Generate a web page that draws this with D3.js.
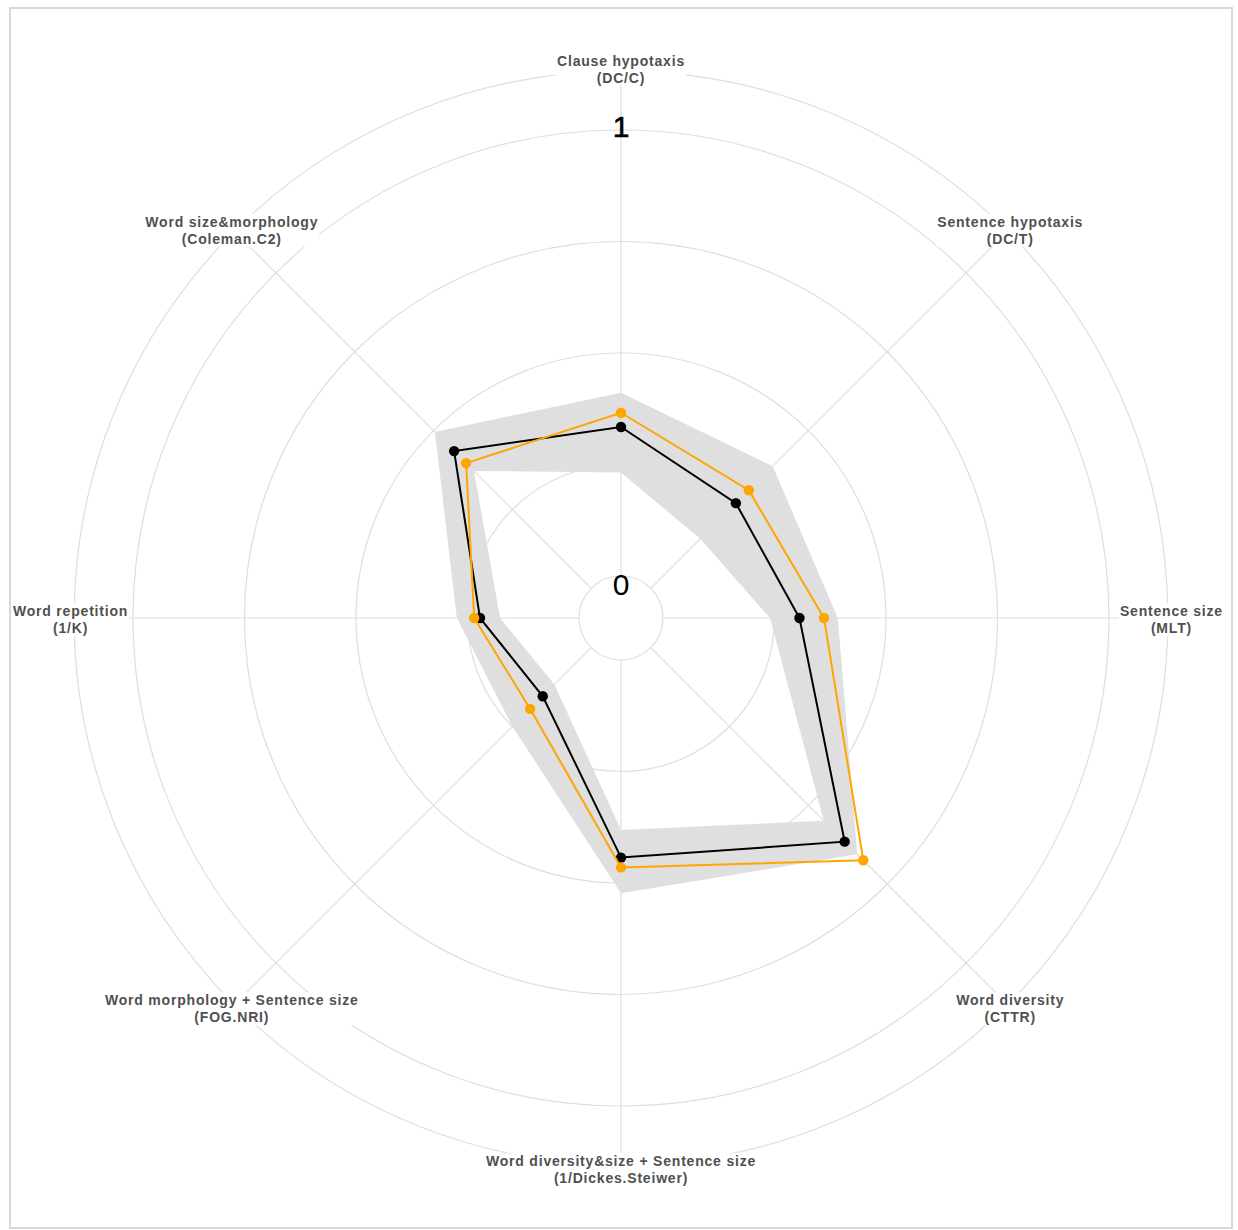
<!DOCTYPE html>
<html>
<head>
<meta charset="utf-8">
<script src="https://cdn.jsdelivr.net/npm/d3@7"></script>
<style>
  html, body { margin: 0; padding: 0; background: #fff; }
  svg { display: block; }
</style>
</head>
<body>
<svg id="chart" width="1238" height="1230"></svg>
<script>
// ---- data ----
const axisNames = [
  "Clause hypotaxis", "Sentence hypotaxis", "Sentence size", "Word diversity",
  "Word diversity&size + Sentence size", "Word morphology + Sentence size",
  "Word repetition", "Word size&morphology"
];
const axisCodes = ["(DC/C)", "(DC/T)", "(MLT)", "(CTTR)", "(1/Dickes.Steiwer)", "(FOG.NRI)", "(1/K)", "(Coleman.C2)"];
const seriesBlack  = [0.334, 0.270, 0.306, 0.615, 0.443, 0.154, 0.222, 0.435];
const seriesOrange = [0.366, 0.311, 0.361, 0.674, 0.465, 0.194, 0.235, 0.397];
const bandMax = [0.411, 0.387, 0.392, 0.655, 0.523, 0.250, 0.274, 0.496];
const bandMin = [0.232, 0.157, 0.240, 0.549, 0.381, 0.117, 0.177, 0.372];
const gridValues = [0, 0.25, 0.5, 0.75, 1];
const gridLabels = ["0", "1"];

// ---- layout ----
const W = 1238, H = 1230;
const cx = 621, cy = 618;
const svg = d3.select("#chart");
const r = d3.scaleLinear().domain([0, 1]).range([42, 488]);
const outerV = 1.132, axisEndV = 1.105, labelV = 1.14;
const n = axisNames.length;
const ang = d3.scaleLinear().domain([0, n]).range([0, 2 * Math.PI]);
const pt = (i, v) => [cx + r(v) * Math.sin(ang(i)), cy - r(v) * Math.cos(ang(i))];

// panel border
svg.append("rect").attr("x", 10).attr("y", 8).attr("width", 1222).attr("height", 1220)
  .attr("fill", "none").attr("stroke", "#d9d9d9").attr("stroke-width", 2);

const g = svg.append("g");
const gridColor = "#dedede";

// grid circles
g.selectAll("circle.grid").data(gridValues.concat([outerV])).join("circle")
  .attr("class", "grid").attr("cx", cx).attr("cy", cy).attr("r", d => r(d))
  .attr("fill", "none").attr("stroke", gridColor).attr("stroke-width", 1.2);

// axis lines
g.selectAll("line.axis").data(d3.range(n)).join("line")
  .attr("class", "axis")
  .attr("x1", i => pt(i, 0)[0]).attr("y1", i => pt(i, 0)[1])
  .attr("x2", i => pt(i, axisEndV)[0]).attr("y2", i => pt(i, axisEndV)[1])
  .attr("stroke", gridColor).attr("stroke-width", 1.2);

// band (between min and max), even-odd ring
const ringPath = vals => "M" + vals.map((v, i) => pt(i, v).join(",")).join("L") + "Z";
const innerRev = d3.range(n).reverse().map(i => pt(i, bandMin[i]).join(","));
g.append("path")
  .attr("d", ringPath(bandMax) + "M" + innerRev.join("L") + "Z")
  .attr("fill", "#dfdfdf").attr("fill-rule", "evenodd").attr("stroke", "none");

// series
const line = d3.line().curve(d3.curveLinearClosed);
function drawSeries(vals, color) {
  const pts = vals.map((v, i) => pt(i, v));
  g.append("path").attr("d", line(pts)).attr("fill", "none")
    .attr("stroke", color).attr("stroke-width", 2);
  g.selectAll(null).data(pts).join("circle")
    .attr("cx", d => d[0]).attr("cy", d => d[1]).attr("r", 5.2).attr("fill", color);
}
drawSeries(seriesBlack, "#000000");
drawSeries(seriesOrange, "#FFA500");

// grid labels 0 / 1
g.append("text").attr("x", cx).attr("y", cy - r(1) + 7)
  .attr("text-anchor", "middle").attr("font-family", "Liberation Sans, Arial, sans-serif")
  .attr("font-size", 30).attr("fill", "#000").attr("stroke", "#000").attr("stroke-width", 0.6)
  .text(gridLabels[1]);
g.append("text").attr("x", cx).attr("y", cy - r(0) + 19)
  .attr("text-anchor", "middle").attr("font-family", "Liberation Sans, Arial, sans-serif")
  .attr("font-size", 30).attr("fill", "#000").text(gridLabels[0]);

// axis labels with white background
const lab = g.selectAll("g.lab").data(d3.range(n)).join("g").attr("class", "lab")
  .attr("transform", i => `translate(${pt(i, labelV)[0]},${pt(i, labelV)[1]})`);
lab.append("rect").attr("fill", "#fff");
const txt = lab.append("text").attr("text-anchor", "middle")
  .attr("font-family", "Liberation Sans, Arial, sans-serif").attr("font-size", 14)
  .attr("font-weight", "bold").attr("fill", "#505050").attr("letter-spacing", 0.8);
txt.append("tspan").attr("x", 0).attr("y", -2).text(i => axisNames[i]);
txt.append("tspan").attr("x", 0).attr("y", 15).text(i => axisCodes[i]);
txt.each(function(i) {
  const b = this.getBBox();
  d3.select(this.parentNode).select("rect")
    .attr("x", b.x - 1).attr("y", b.y).attr("width", b.width + 2).attr("height", b.height);
});
</script>
</body>
</html>
